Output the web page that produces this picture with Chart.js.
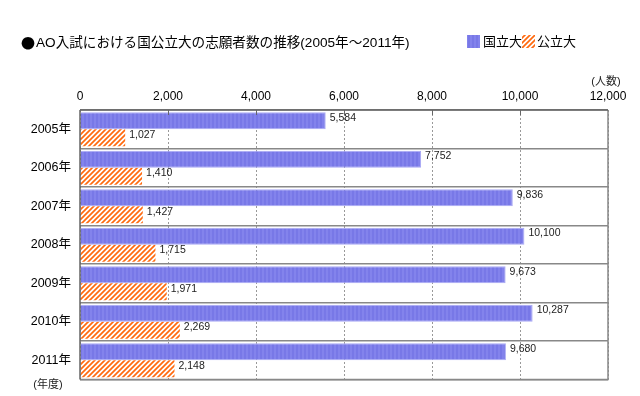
<!DOCTYPE html>
<html><head><meta charset="utf-8">
<script src="https://cdn.jsdelivr.net/npm/chart.js@4"></script>
<style>html,body{margin:0;padding:0;background:#fff}canvas{display:block}</style>
</head><body>
<canvas id="c" width="640" height="396"></canvas>
<script>
const categories = ['2005年','2006年','2007年','2008年','2009年','2010年','2011年'];
const national = [5584, 7752, 9836, 10100, 9673, 10287, 9680];
const publicU = [1027, 1410, 1427, 1715, 1971, 2269, 2148];
const seriesNames = ['国立大','公立大'];
const titleBullet = '●';
const titleText = 'AO入試における国公立大の志願者数の推移(2005年〜2011年)';
const unitText = '(人数)';
const yUnitText = '(年度)';

const FONT = "'Liberation Sans','Noto Sans CJK JP',sans-serif";
const CJK = "'Noto Sans CJK JP',sans-serif";

function bluePattern(ctx){
  const c = document.createElement('canvas'); c.width=4; c.height=4;
  const g = c.getContext('2d');
  g.fillStyle='#7878e7'; g.fillRect(0,0,4,4);
  g.fillStyle='#8383ec'; g.fillRect(2,0,2,4);
  return ctx.createPattern(c,'repeat');
}
function hatchPattern(ctx){
  const s=5;
  const c = document.createElement('canvas'); c.width=s; c.height=s;
  const g = c.getContext('2d');
  g.fillStyle='#fff'; g.fillRect(0,0,s,s);
  g.strokeStyle='#ff6a10'; g.lineWidth=1.7;
  g.beginPath();
  g.moveTo(-1,s+1); g.lineTo(s+1,-1);
  g.moveTo(-1,1); g.lineTo(1,-1);
  g.moveTo(s-1,s+1); g.lineTo(s+1,s-1);
  g.stroke();
  return ctx.createPattern(c,'repeat');
}

const canvas = document.getElementById('c');
const ctx0 = canvas.getContext('2d');
const bp = bluePattern(ctx0), hp = hatchPattern(ctx0);

const decor = {
  id:'decor',
  afterDatasetsDraw(chart){
    const ctx = chart.ctx, a = chart.chartArea;
    ctx.save();
    ctx.strokeStyle='#888'; ctx.lineWidth=1.5;
    ctx.beginPath();
    ctx.moveTo(a.right, a.top); ctx.lineTo(a.right, a.bottom); ctx.lineTo(a.left, a.bottom);
    ctx.stroke();
    ctx.strokeStyle='#666'; ctx.lineWidth=1.5;
    ctx.beginPath();
    ctx.moveTo(a.left, a.top); ctx.lineTo(a.right, a.top);
    ctx.moveTo(a.left, a.top); ctx.lineTo(a.left, a.bottom);
    ctx.stroke();
    const xs = chart.scales.x;
    ctx.lineWidth=1;
    for (let v=2000; v<12000; v+=2000){
      const px = Math.round(xs.getPixelForValue(v))+0.5;
      ctx.beginPath(); ctx.moveTo(px, a.top); ctx.lineTo(px, a.top+5); ctx.stroke();
    }
    ctx.fillStyle='#222'; ctx.font='10.5px '+FONT;
    ctx.textAlign='left'; ctx.textBaseline='middle';
    chart.data.datasets.forEach((ds,di)=>{
      chart.getDatasetMeta(di).data.forEach((el,i)=>{
        ctx.fillText(ds.data[i].toLocaleString('en-US'), el.x+4, el.y-3);
      });
    });
    ctx.fillStyle='#000'; ctx.textBaseline='middle';
    ctx.font='14px '+CJK;
    ctx.fillText(titleBullet, 21, 43);
    ctx.font='13.6px '+FONT;
    ctx.fillText(titleText, 36, 43);
    ctx.font='13px '+FONT;
    ctx.fillStyle=bp; ctx.fillRect(467,35,13,13);
    ctx.fillStyle='#000'; ctx.fillText(seriesNames[0], 483, 42);
    ctx.fillStyle=hp; ctx.fillRect(522,35,13,13);
    ctx.fillStyle='#000'; ctx.fillText(seriesNames[1], 537, 42);
    ctx.font='11px '+FONT; ctx.fillStyle='#222';
    ctx.textAlign='center';
    ctx.fillText(unitText, 606, 82);
    ctx.fillText(yUnitText, 48, 385);
    ctx.restore();
  }
};

new Chart(canvas, {
  type:'bar',
  data:{
    labels: categories,
    datasets:[
      {label:seriesNames[0], data:national, backgroundColor:bp, borderColor:'#a8a8f4', borderWidth:1, borderSkipped:'left'},
      {label:seriesNames[1], data:publicU, backgroundColor:hp, borderWidth:0}
    ]
  },
  options:{
    indexAxis:'y',
    responsive:false,
    animation:false,
    devicePixelRatio:1,
    categoryPercentage:0.88,
    barPercentage:1.0,
    layout:{padding:{left:0,right:32,top:0,bottom:9}},
    plugins:{legend:{display:false}, tooltip:{enabled:false}},
    scales:{
      x:{
        position:'top', min:0, max:12000,
        afterFit(s){ s.height = 110; },
        ticks:{stepSize:2000, color:'#000', font:{family:FONT, size:12}, padding:6,
          callback:v=>v.toLocaleString('en-US')},
        grid:{color:'#999', drawTicks:false, lineWidth:1},
        border:{display:false, dash:[2,2]}
      },
      y:{
        afterFit(s){ s.width = 80; },
        ticks:{color:'#000', font:{family:FONT, size:12.5}, padding:9},
        grid:{color:'#888', drawTicks:false, lineWidth:1.5, offset:true},
        border:{display:false}
      }
    }
  },
  plugins:[decor]
});
</script>
</body></html>
